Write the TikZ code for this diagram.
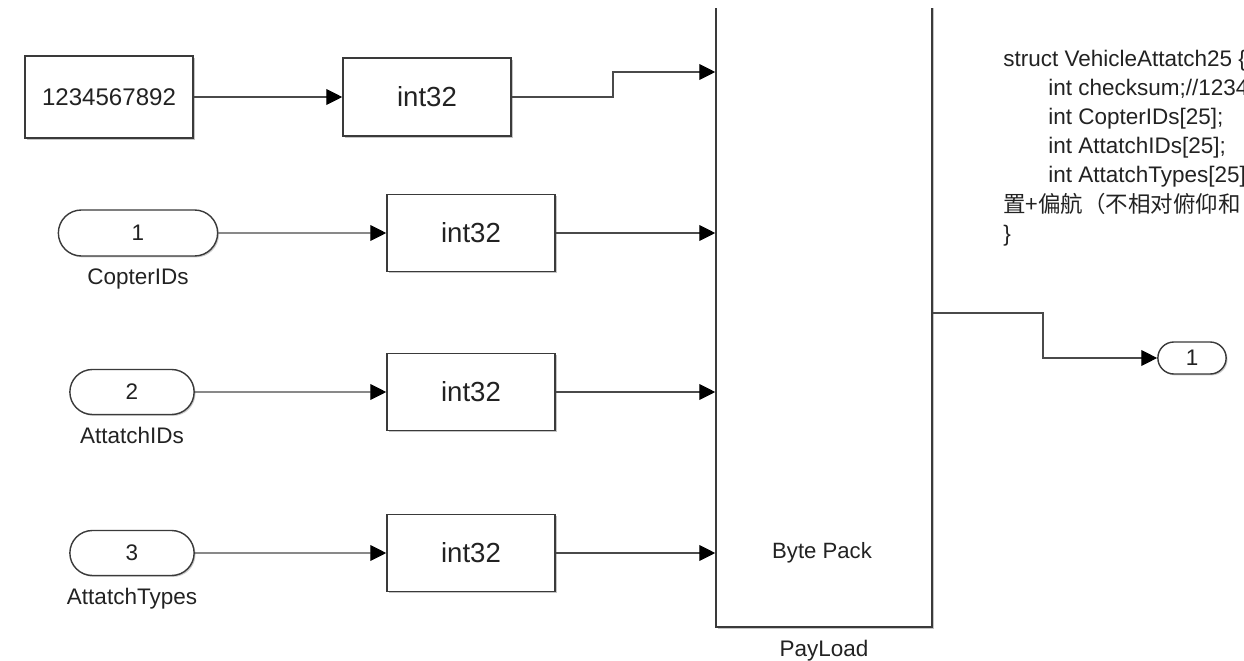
\documentclass[tikz,border=0pt]{standalone}
\usepackage{fontspec}
\setmainfont{Liberation Sans}
\newfontfamily\cjk{Noto Sans CJK SC}
\usepackage{xcolor}
\usetikzlibrary{arrows.meta, positioning, calc, shapes.misc, shadows}
\definecolor{wire}{HTML}{4A4A4A}
\definecolor{edge}{HTML}{3A3A3A}
\definecolor{ink}{HTML}{222222}

\begin{document}
\begin{tikzpicture}[
    blk/.style={draw=edge, line width=0.9pt, fill=white, minimum width=3.36cm, minimum height=#1, align=center,
        drop shadow={shadow xshift=1.1pt, shadow yshift=-1.1pt, fill=black!45}, text=ink},
    blk/.default=1.54cm,
    port/.style={draw=edge, line width=0.8pt, fill=white, rounded rectangle, align=center, text=ink,
        font=\fontsize{12.8}{15}\selectfont, drop shadow={shadow xshift=0.8pt, shadow yshift=-0.8pt, fill=black!40}},
    lbl/.style={font=\fontsize{12.8}{15}\selectfont, text=ink, label distance=3.5pt},
    txt/.style={anchor=base west, inner sep=0pt, font=\fontsize{12.8}{15}\selectfont, text=ink},
    sig/.style={draw=wire, line width=0.6pt, -{Triangle[length=9pt, width=9pt, fill=black, color=black]}},
    int/.style={font=\fontsize{15.7}{18}\selectfont},
]
    \useasboundingbox (0,0) rectangle (24.88,-13.22);
    \clip (0,0) rectangle (24.88,-13.22);

    % Sources
    \node[blk=1.64cm, font=\fontsize{13.7}{16}\selectfont] (const) at (2.18,-1.94) {1234567892};
    \node[port, minimum width=3.42cm, minimum height=0.92cm, label={[lbl]below:CopterIDs}] (in1) at (2.76,-4.66) {1};
    \node[port, minimum width=2.72cm, minimum height=0.9cm, label={[lbl]below:AttatchIDs}] (in2) at (2.64,-7.84) {2};
    \node[port, minimum width=2.72cm, minimum height=0.9cm, label={[lbl]below:AttatchTypes}] (in3) at (2.64,-11.06) {3};

    % Conversions
    \node[blk=1.56cm, int] (k1) at (8.54,-1.94) {int32};
    \node[blk, int] (k2) at (9.42,-4.66) {int32};
    \node[blk, int] (k3) at (9.42,-7.84) {int32};
    \node[blk, int] (k4) at (9.42,-11.06) {int32};

    % Byte pack block (top cut off by the view)
    \begin{scope}
        \clip (0,-0.18) rectangle (24.88,-13.22);
        \node[blk=12.74cm, minimum width=4.32cm, label={[lbl]below:PayLoad}] (pack) at (16.48,-6.17) {};
    \end{scope}
    \node[font=\fontsize{12.6}{15}\selectfont, text=ink] (packtxt) at (16.44,-11.06) {Byte Pack};

    % Output port
    \node[port, minimum width=1.6cm, minimum height=0.64cm] (out1) at (23.84,-7.16) {1};

    % Wires
    \coordinate (j1) at (12.26,-1.44);
    \coordinate (j2) at (20.86,-6.26);
    \draw[sig] (const) -- (k1);
    \draw[sig] (in1) -- (k2);
    \draw[sig] (in2) -- (k3);
    \draw[sig] (in3) -- (k4);
    \draw[sig] (k1.east) -| (j1) -- (j1 -| pack.west);
    \draw[sig] (k2.east) -- (k2.east -| pack.west);
    \draw[sig] (k3.east) -- (k3.east -| pack.west);
    \draw[sig] (k4.east) -- (k4.east -| pack.west);
    \draw[sig] (j2 -| pack.east) -- (j2) |- (out1.west);

    % Struct note
    \node[txt] (s1) at (20.06,-1.32) {struct VehicleAttatch25 \{};
    \node[txt] (s2) at (20.96,-1.904) {int checksum;//1234567892};
    \node[txt] (s3) at (20.96,-2.488) {int CopterIDs[25];};
    \node[txt] (s4) at (20.96,-3.072) {int AttatchIDs[25];};
    \node[txt] (s5) at (20.96,-3.656) {int AttatchTypes[25];};
    \node[txt] (s6) at (20.06,-4.24) {\cjk 置+偏航（不相对俯仰和};
    \node[txt] (s7) at (20.06,-4.824) {\}};
\end{tikzpicture}
\end{document}
